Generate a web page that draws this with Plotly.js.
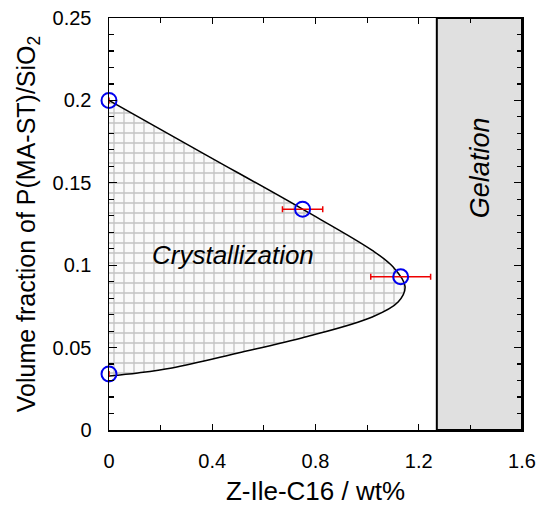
<!DOCTYPE html>
<html>
<head>
<meta charset="utf-8">
<script src="https://cdn.plot.ly/plotly-3.0.1.min.js"></script>
<style>html,body{margin:0;padding:0;background:#fff;}#chart{width:536px;height:506px;}</style>
</head>
<body>
<div id="chart"></div>
<script>
// Measured points (Z-Ile-C16 wt%, volume fraction)
const pointX = [0, 0.75, 1.13, 0];
const pointY = [0.2, 0.134, 0.093, 0.034];
const pointErrX = [0, 0.078, 0.116, 0];

// Crystallization region boundary
const boundaryX = [0, 0.375, 0.75, 1.02, 1.10, 1.147, 1.12, 1.02, 0.76, 0.5, 0.244, 0.112, 0];
const boundaryY = [0.2, 0.167, 0.134, 0.109, 0.099, 0.087, 0.0777, 0.0686, 0.0564, 0.0467, 0.0376, 0.0346, 0.0328];

// Gelation region
const gelationX = [1.27, 1.6];
const gelationY = [0, 0.25];

// Axis ticks
const xTickVals = [0, 0.4, 0.8, 1.2, 1.6];
const xTickText = ['0', '0.4', '0.8', '1.2', '1.6'];
const yTickVals = [0, 0.05, 0.1, 0.15, 0.2, 0.25];
const yTickText = ['0', '0.05', '0.1', '0.15', '0.2', '0.25'];

const FONT = 'Liberation Sans, Arial, Helvetica, sans-serif';

const traces = [
  {
    x: boundaryX, y: boundaryY,
    mode: 'lines', type: 'scatter',
    line: {color: 'black', width: 1.5, shape: 'spline', smoothing: 1},
    fill: 'toself',
    fillcolor: 'white',
    fillpattern: {shape: '+', size: 10, solidity: 0.24, fgcolor: '#c2c2c2', bgcolor: '#fafafa'},
    hoverinfo: 'skip', showlegend: false
  },
  {
    x: pointX, y: pointY,
    mode: 'markers', type: 'scatter',
    cliponaxis: false,
    marker: {symbol: 'circle-open', size: 15, color: '#0000ee', line: {width: 2, color: '#0000ee'}},
    error_x: {type: 'data', array: pointErrX, visible: true, color: '#ee0000', thickness: 1.5, width: 3},
    showlegend: false
  }
];

const layout = {
  width: 536, height: 506,
  margin: {l: 109, r: 14, t: 18, b: 76},
  paper_bgcolor: 'white', plot_bgcolor: 'white',
  font: {family: FONT, size: 20, color: 'black'},
  showlegend: false,
  xaxis: {
    range: [0, 1.6], showgrid: false, zeroline: false,
    tickvals: xTickVals, ticktext: xTickText,
    ticks: 'inside', ticklen: 6, tickwidth: 1.2, tickcolor: 'black',
    minor: {dtick: 0.2, tick0: 0, ticks: 'inside', ticklen: 5, tickwidth: 1.2, tickcolor: 'black'},
    showline: true, linecolor: 'black', linewidth: 1.5, mirror: 'ticks',
    ticklabelstandoff: 12,
    tickfont: {family: FONT, size: 20},
    title: {text: 'Z-Ile-C16 / wt%', font: {family: FONT, size: 26}, standoff: 16}
  },
  yaxis: {
    range: [0, 0.25], showgrid: false, zeroline: false,
    tickvals: yTickVals, ticktext: yTickText,
    ticks: 'inside', ticklen: 8, tickwidth: 1.2, tickcolor: 'black',
    minor: {dtick: 0.01, tick0: 0, ticks: 'inside', ticklen: 5, tickwidth: 1.2, tickcolor: 'black'},
    showline: true, linecolor: 'black', linewidth: 1.5, mirror: 'ticks',
    ticklabelstandoff: 12,
    tickfont: {family: FONT, size: 20},
    title: {text: 'Volume fraction of P(MA-ST)/SiO<sub>2</sub>', font: {family: FONT, size: 25}, standoff: 10}
  },
  shapes: [
    {type: 'rect', xref: 'x', yref: 'y', layer: 'below',
     x0: gelationX[0], x1: gelationX[1], y0: gelationY[0], y1: gelationY[1],
     fillcolor: '#e0e0e0', line: {color: 'black', width: 2}}
  ],
  annotations: [
    {x: 0.48, y: 0.106, xref: 'x', yref: 'y', text: '<i>Crystallization</i>', showarrow: false,
     font: {family: FONT, size: 26, color: 'black'}},
    {x: 1.438, y: 0.159, xref: 'x', yref: 'y', text: '<i>Gelation</i>', showarrow: false, textangle: -90,
     font: {family: FONT, size: 27, color: 'black'}}
  ]
};

Plotly.newPlot('chart', traces, layout, {displayModeBar: false, staticPlot: true});
</script>
</body>
</html>
